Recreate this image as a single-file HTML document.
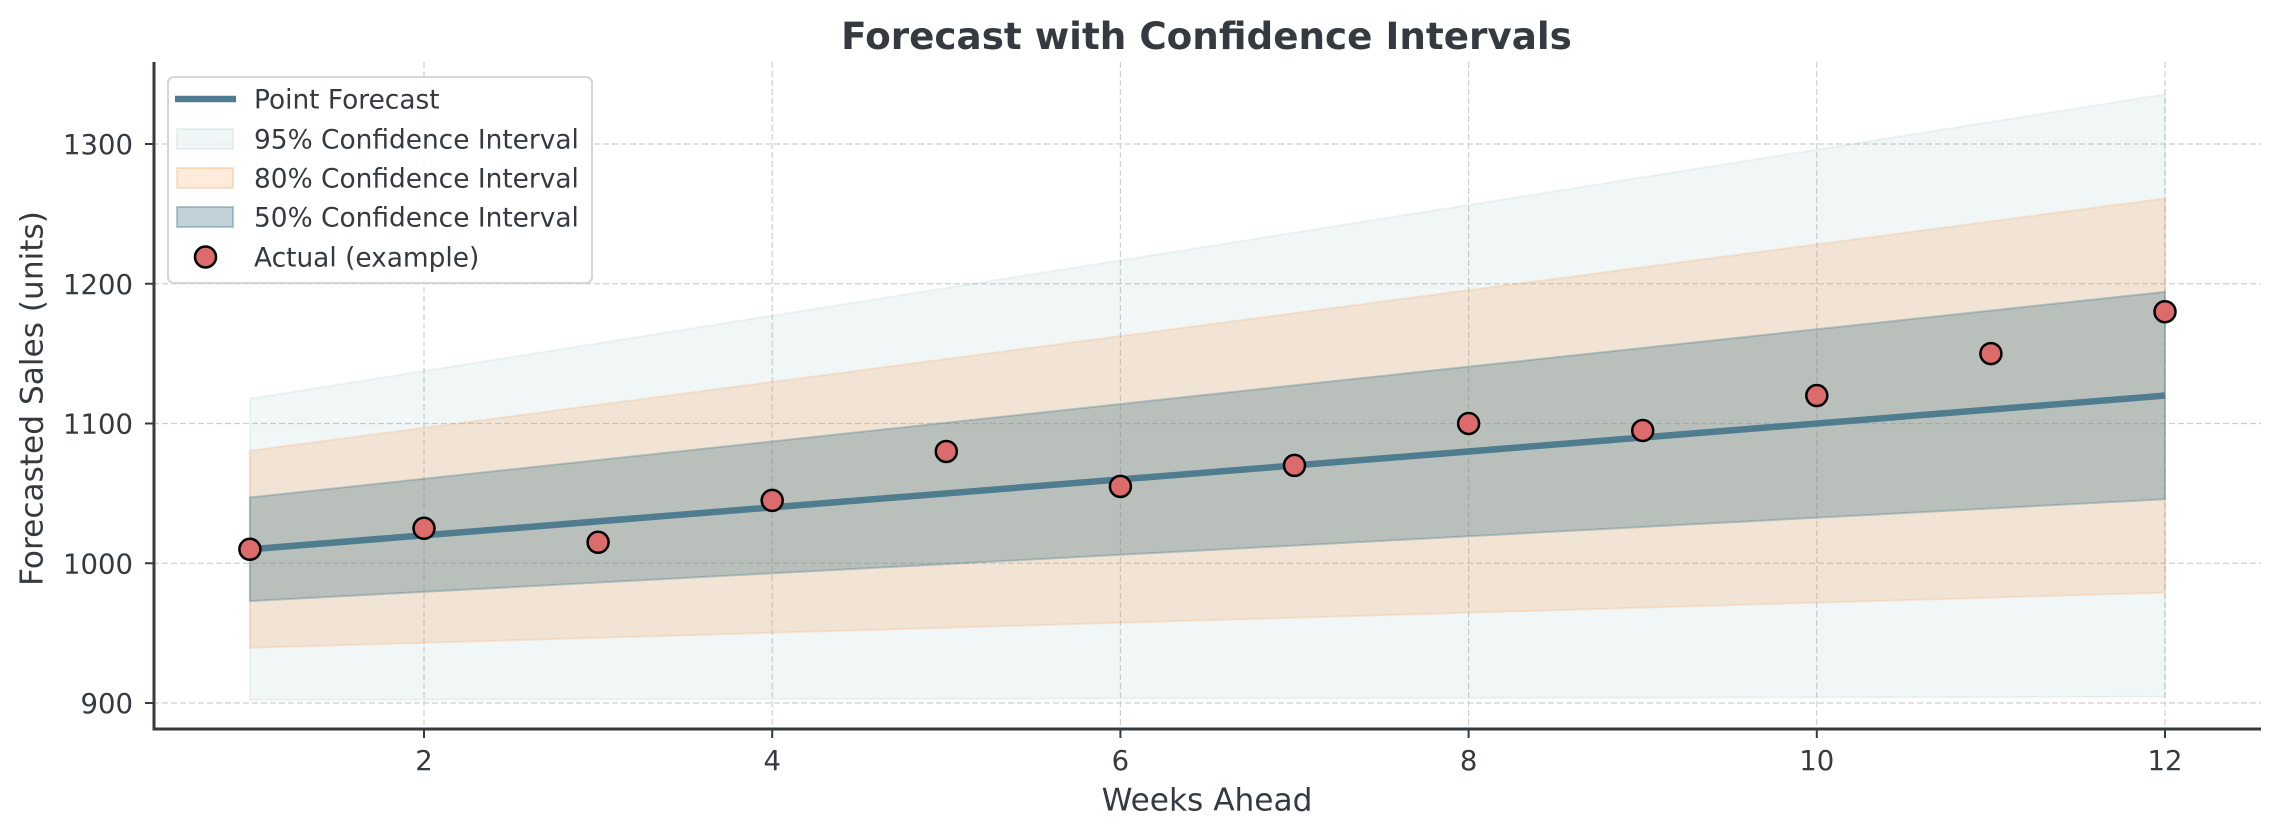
<!DOCTYPE html>
<html>
<head>
<meta charset="utf-8">
<style>
html,body{margin:0;padding:0;background:#fff;}
svg{display:block;}
text{font-family:"DejaVu Sans","Liberation Sans",sans-serif;fill:#343a40;}
</style>
</head>
<body>
<svg width="2280" height="837" viewBox="0 0 2280 837" xmlns="http://www.w3.org/2000/svg">
<rect width="2280" height="837" fill="#ffffff"/>

<!-- grid -->
<g stroke="#cfcfcf" stroke-width="1.2" stroke-dasharray="6,3" fill="none">
  <line x1="153" y1="703" x2="2261" y2="703"/>
  <line x1="153" y1="563.25" x2="2261" y2="563.25"/>
  <line x1="153" y1="423.5" x2="2261" y2="423.5"/>
  <line x1="153" y1="283.75" x2="2261" y2="283.75"/>
  <line x1="153" y1="144" x2="2261" y2="144"/>
  <line x1="424" y1="62" x2="424" y2="729"/>
  <line x1="772.2" y1="62" x2="772.2" y2="729"/>
  <line x1="1120.4" y1="62" x2="1120.4" y2="729"/>
  <line x1="1468.6" y1="62" x2="1468.6" y2="729"/>
  <line x1="1816.8" y1="62" x2="1816.8" y2="729"/>
  <line x1="2165" y1="62" x2="2165" y2="729"/>
</g>

<!-- 95% band -->
<polygon points="249.9,398.6 2165,94.25 2165,696.9 249.9,699.9" fill="#5f9c9c" fill-opacity="0.09" stroke="#5f9c9c" stroke-opacity="0.09" stroke-width="2"/>
<!-- 80% band -->
<polygon points="249.9,450.75 2165,198.5 2165,592.6 249.9,647.8" fill="#f4a261" fill-opacity="0.22" stroke="#f4a261" stroke-opacity="0.22" stroke-width="2"/>
<!-- 50% band -->
<polygon points="249.9,497.4 2165,291.9 2165,499.2 249.9,601.1" fill="#4f7d8f" fill-opacity="0.35" stroke="#4f7d8f" stroke-opacity="0.35" stroke-width="2"/>

<!-- forecast line -->
<line x1="249.9" y1="549.3" x2="2165" y2="395.55" stroke="#4f7d8f" stroke-width="6.5"/>

<!-- actual points -->
<g fill="#dc6b6b" stroke="#000" stroke-width="2.5">
  <circle cx="249.9" cy="549.3" r="10.5"/>
  <circle cx="424" cy="528.3" r="10.5"/>
  <circle cx="598.1" cy="542.3" r="10.5"/>
  <circle cx="772.2" cy="500.4" r="10.5"/>
  <circle cx="946.3" cy="451.45" r="10.5"/>
  <circle cx="1120.4" cy="486.4" r="10.5"/>
  <circle cx="1294.5" cy="465.4" r="10.5"/>
  <circle cx="1468.6" cy="423.5" r="10.5"/>
  <circle cx="1642.7" cy="430.5" r="10.5"/>
  <circle cx="1816.8" cy="395.55" r="10.5"/>
  <circle cx="1990.9" cy="353.6" r="10.5"/>
  <circle cx="2165" cy="311.7" r="10.5"/>
</g>

<!-- spines -->
<g stroke="#343a40" stroke-width="3">
  <line x1="154" y1="62" x2="154" y2="730.5"/>
  <line x1="152.5" y1="729" x2="2261" y2="729"/>
</g>
<!-- ticks -->
<g stroke="#343a40" stroke-width="2">
  <line x1="424" y1="729" x2="424" y2="738"/>
  <line x1="772.2" y1="729" x2="772.2" y2="738"/>
  <line x1="1120.4" y1="729" x2="1120.4" y2="738"/>
  <line x1="1468.6" y1="729" x2="1468.6" y2="738"/>
  <line x1="1816.8" y1="729" x2="1816.8" y2="738"/>
  <line x1="2165" y1="729" x2="2165" y2="738"/>
  <line x1="145" y1="703" x2="154" y2="703"/>
  <line x1="145" y1="563.25" x2="154" y2="563.25"/>
  <line x1="145" y1="423.5" x2="154" y2="423.5"/>
  <line x1="145" y1="283.75" x2="154" y2="283.75"/>
  <line x1="145" y1="144" x2="154" y2="144"/>
</g>

<!-- x tick labels -->
<g font-size="27.5" text-anchor="middle">
  <text x="424" y="770">2</text>
  <text x="772.2" y="770">4</text>
  <text x="1120.4" y="770">6</text>
  <text x="1468.6" y="770">8</text>
  <text x="1816.8" y="770">10</text>
  <text x="2165" y="770">12</text>
</g>
<!-- y tick labels -->
<g font-size="27.5" text-anchor="end">
  <text x="133" y="713">900</text>
  <text x="133" y="573.25">1000</text>
  <text x="133" y="433.5">1100</text>
  <text x="133" y="293.75">1200</text>
  <text x="133" y="154">1300</text>
</g>

<!-- axis labels -->
<text x="1207" y="810.5" font-size="31.2" text-anchor="middle">Weeks Ahead</text>
<text transform="translate(42.5,398.5) rotate(-90)" font-size="31.2" text-anchor="middle">Forecasted Sales (units)</text>

<!-- title -->
<text x="1206.5" y="49" font-size="37.3" font-weight="bold" text-anchor="middle">Forecast with Confidence Intervals</text>

<!-- legend -->
<rect x="168" y="77" width="424" height="206" rx="6" ry="6" fill="#ffffff" fill-opacity="0.8" stroke="#d6d6d6" stroke-width="2"/>
<line x1="175" y1="99" x2="236" y2="99" stroke="#4f7d8f" stroke-width="6.5"/>
<rect x="177" y="129" width="56" height="20" fill="#5f9c9c" fill-opacity="0.09" stroke="#5f9c9c" stroke-opacity="0.12" stroke-width="2"/>
<rect x="177" y="168" width="56" height="20" fill="#f4a261" fill-opacity="0.22" stroke="#f4a261" stroke-opacity="0.3" stroke-width="2"/>
<rect x="177" y="207" width="56" height="20" fill="#4f7d8f" fill-opacity="0.35" stroke="#4f7d8f" stroke-opacity="0.4" stroke-width="2"/>
<circle cx="205.5" cy="257" r="10.5" fill="#dc6b6b" stroke="#000" stroke-width="2.5"/>
<g font-size="26.4">
  <text x="254" y="108.6">Point Forecast</text>
  <text x="254" y="148.6">95% Confidence Interval</text>
  <text x="254" y="187.6">80% Confidence Interval</text>
  <text x="254" y="226.6">50% Confidence Interval</text>
  <text x="254" y="266.6">Actual (example)</text>
</g>
</svg>
</body>
</html>
